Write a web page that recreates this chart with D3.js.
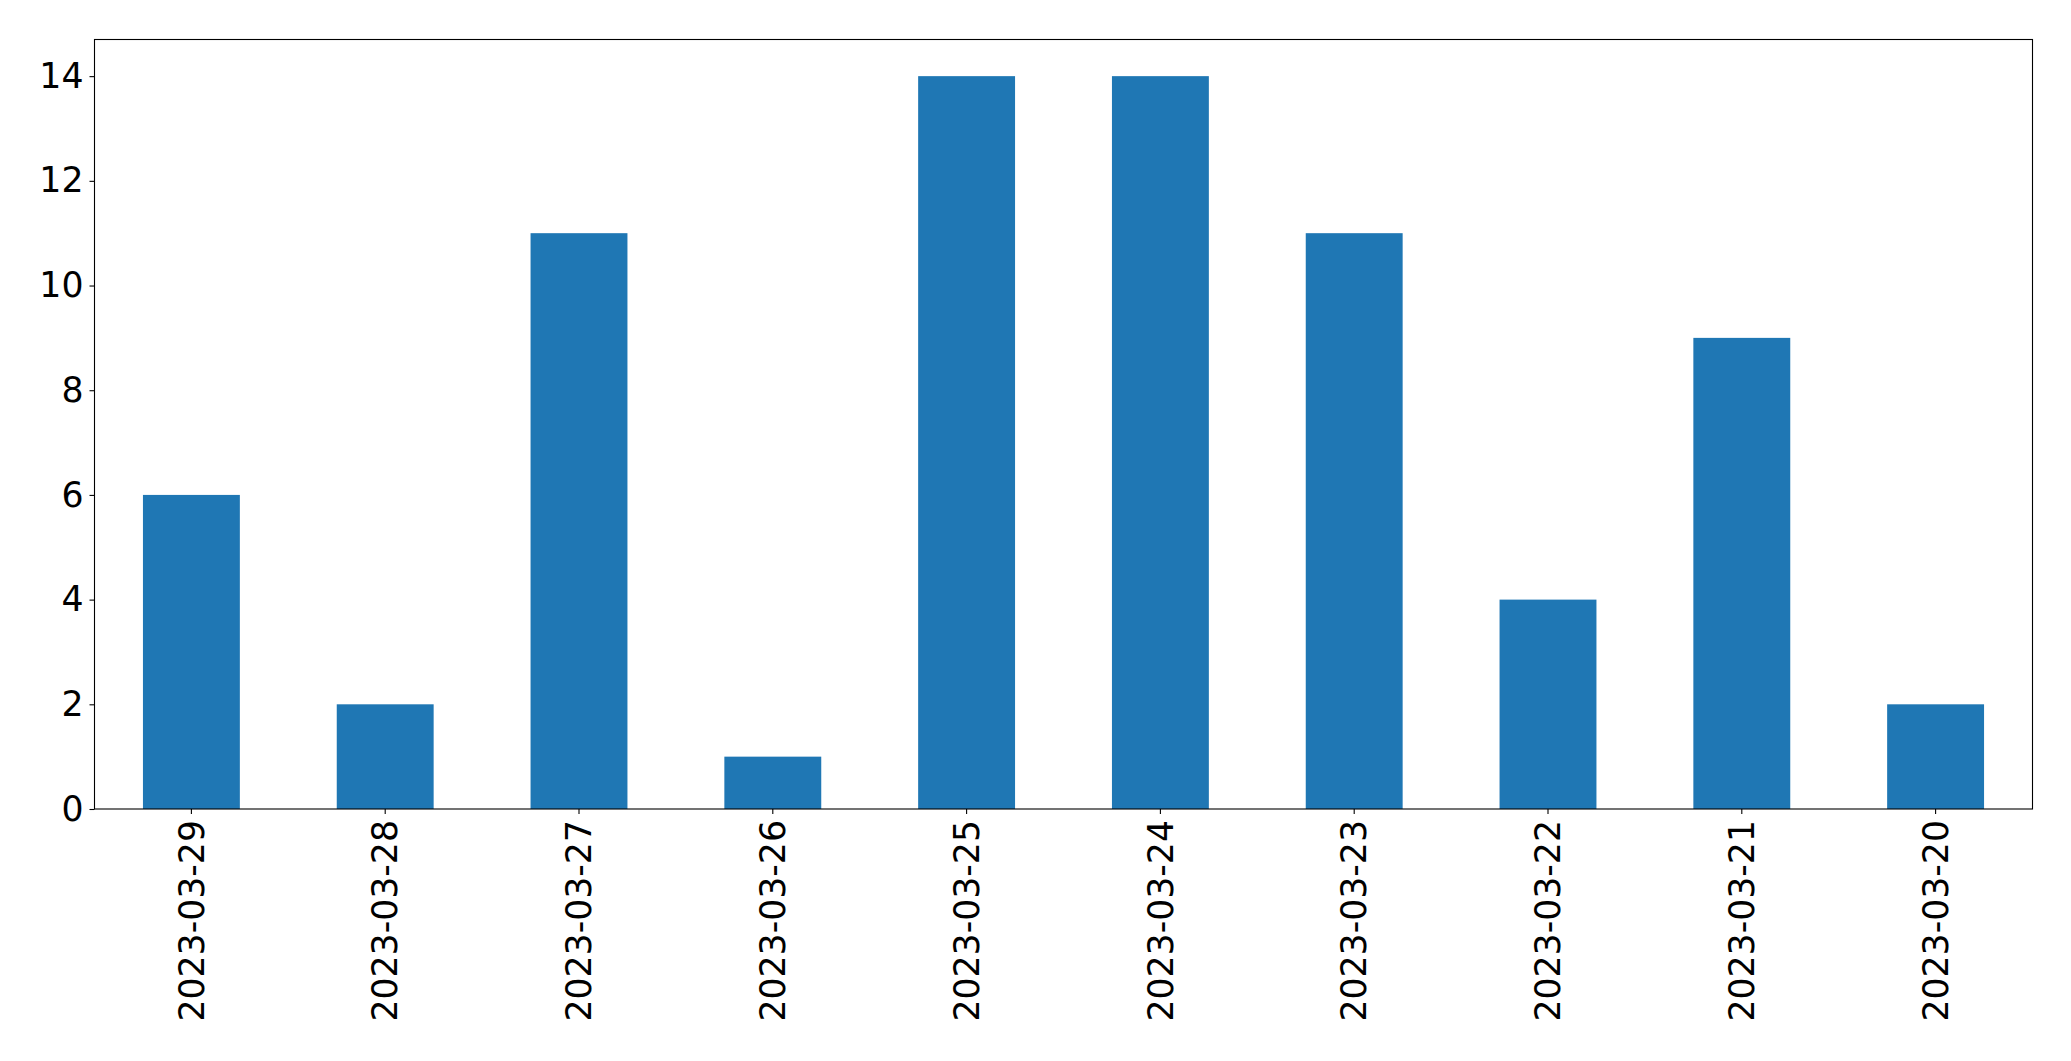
<!DOCTYPE html>
<html>
<head>
<meta charset="utf-8">
<script src="https://cdn.jsdelivr.net/npm/d3@7"></script>
<style>
  html, body { margin: 0; padding: 0; background: #fff; }
  svg { display: block; }
  text { font-family: "DejaVu Sans", sans-serif; fill: #000; }
</style>
</head>
<body>
<svg id="chart" width="2071" height="1061"></svg>
<script>
const categories = ["2023-03-29", "2023-03-28", "2023-03-27", "2023-03-26", "2023-03-25",
                    "2023-03-24", "2023-03-23", "2023-03-22", "2023-03-21", "2023-03-20"];
const counts = [6, 2, 11, 1, 14, 14, 11, 4, 9, 2];
const yTicks = [0, 2, 4, 6, 8, 10, 12, 14];

const W = 2071, H = 1061;
const margin = { left: 94.5, right: W - 2032.5, top: 39.5, bottom: H - 809 };
const svg = d3.select("#chart");
const plotW = W - margin.left - margin.right;
const plotH = H - margin.top - margin.bottom;
const g = svg.append("g").attr("transform", `translate(${margin.left},${margin.top})`);

const x = d3.scaleBand().domain(categories).range([0, plotW]).paddingInner(0.5).paddingOuter(0.25);
const y = d3.scaleLinear().domain([0, 14.7]).range([plotH, 0]);

g.selectAll("rect.bar").data(categories).enter().append("rect")
  .attr("class", "bar")
  .attr("x", d => x(d))
  .attr("width", x.bandwidth())
  .attr("y", (d, i) => y(counts[i]))
  .attr("height", (d, i) => plotH - y(counts[i]))
  .attr("fill", "#1f77b4");

const fs = "34.7px";
const yAxis = g.append("g").call(d3.axisLeft(y).tickValues(yTicks).tickFormat(d3.format("d")).tickSize(5).tickPadding(6));
yAxis.select(".domain").remove();
yAxis.selectAll("line").attr("stroke", "#000").attr("stroke-width", 1.1);
yAxis.selectAll("text").style("font-size", fs).attr("font-family", "DejaVu Sans");

const xAxis = g.append("g").attr("transform", `translate(0,${plotH})`)
  .call(d3.axisBottom(x).tickSize(5).tickPadding(6));
xAxis.select(".domain").remove();
xAxis.selectAll("line").attr("stroke", "#000").attr("stroke-width", 1.1);
xAxis.selectAll("text")
  .style("font-size", fs).attr("font-family", "DejaVu Sans")
  .attr("transform", "rotate(-90)")
  .attr("text-anchor", "end")
  .attr("x", -11)
  .attr("y", 0)
  .attr("dy", "0.35em");

g.append("rect").attr("x", 0).attr("y", 0).attr("width", plotW).attr("height", plotH)
  .attr("fill", "none").attr("stroke", "#000").attr("stroke-width", 1.1);
</script>
</body>
</html>
